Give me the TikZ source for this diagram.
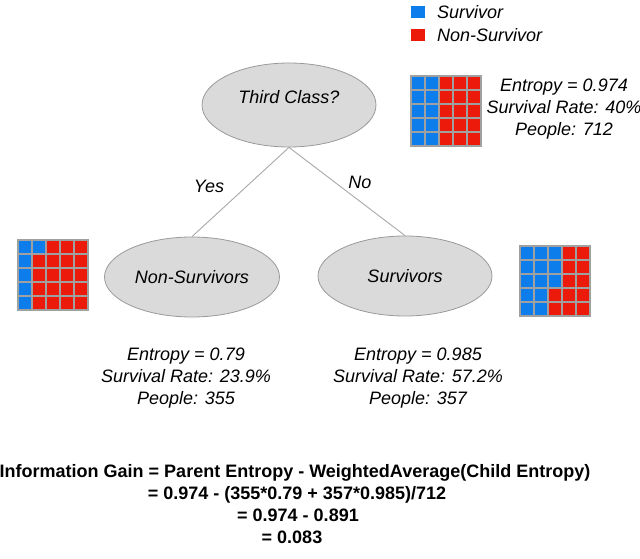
\documentclass[tikz,border=0pt]{standalone}
\usepackage{fontspec}
\setmainfont{Liberation Sans}
\usetikzlibrary{shapes.geometric}
\definecolor{sblue}{HTML}{0D7DEB}
\definecolor{sred}{HTML}{EC1A0A}
\definecolor{gridc}{HTML}{A0A0A0}
\definecolor{nodefill}{HTML}{DADADA}
\definecolor{nodeline}{HTML}{9A9A9A}
\definecolor{connc}{HTML}{A8A8A8}
\newcommand\wafflegrid[3]{%
  \begin{scope}[shift={(#1,#2)}]
    \fill[sred] (0,0) rectangle (70,70);
    \foreach \n [count=\r from 0] in {#3} {
      \fill[sblue] (0,14*\r) rectangle (14*\n,14*\r+14);
    }
    \foreach \k in {1,2,3,4} {
      \draw[gridc, line width=1.5pt] (14*\k,0) -- (14*\k,70);
      \draw[gridc, line width=1.5pt] (0,14*\k) -- (70,14*\k);
    }
    \draw[gridc, line width=1.5pt] (0,0) rectangle (70,70);
  \end{scope}}
\begin{document}
\begin{tikzpicture}[x=1pt,y=-1pt,
  txt/.style={font=\fontsize{18}{21.6}\selectfont\itshape, inner sep=0pt, align=center},
  ftxt/.style={font=\fontsize{18}{21.6}\selectfont\bfseries, inner sep=0pt, anchor=base},
  oval/.style={ellipse, draw=nodeline, fill=nodefill, line width=0.8pt, inner sep=0pt,
    font=\fontsize{18}{21.6}\selectfont\itshape},
  conn/.style={draw=connc, line width=0.9pt}]
\useasboundingbox (0,0) rectangle (640,559);
% legend
\fill[sblue] (411,6) rectangle (425,18);
\node[txt, anchor=west] (lgs) at (437,12) {Survivor};
\fill[sred] (411,29) rectangle (425,41);
\node[txt, anchor=west] (lgn) at (437,35) {Non-Survivor};
% grids
\wafflegrid{411}{76}{2,2,2,2,2}
\wafflegrid{18}{240}{2,1,1,1,1}
\wafflegrid{520}{246}{3,3,3,2,2}
% nodes
\node[oval, minimum width=174pt, minimum height=84pt,
  label={[txt, yshift=8pt]center:Third Class?}] (root) at (289,105) {};
\node[oval, minimum width=175pt, minimum height=80pt] (ns) at (192,277) {Non-Survivors};
\node[oval, minimum width=174pt, minimum height=80pt] (sv) at (405,276) {Survivors};
\draw[conn] (root.south) -- (ns.north);
\draw[conn] (root.south) -- (sv.north);
\node[txt] (yes) at (209,186) {Yes};
\node[txt] (no) at (360,182) {No};
% info texts
\node[txt] (itop) at (564,109) {Entropy = 0.974\\Survival Rate: 40\%\\People: 712};
\node[txt] (ileft) at (186,378) {Entropy = 0.79\\Survival Rate: 23.9\%\\People: 355};
\node[txt] (iright) at (418,378) {Entropy = 0.985\\Survival Rate: 57.2\%\\People: 357};
% formula
\node[ftxt] (f1) at (295,477) {Information Gain = Parent Entropy - WeightedAverage(Child Entropy)};
\node[ftxt] (f2) at (297,499) {= 0.974 - (355*0.79 + 357*0.985)/712};
\node[ftxt] (f3) at (298,521) {= 0.974 - 0.891};
\node[ftxt] (f4) at (292,543) {= 0.083};
\end{tikzpicture}
\end{document}
